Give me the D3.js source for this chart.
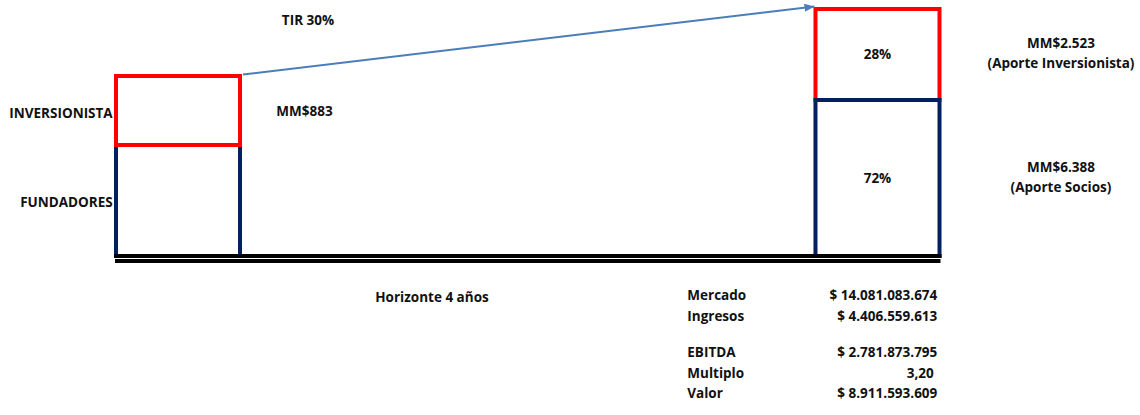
<!DOCTYPE html>
<html>
<head>
<meta charset="utf-8">
<script src="https://cdn.jsdelivr.net/npm/d3@7"></script>
<style>
  html, body { margin: 0; padding: 0; background: #fff; }
  svg { display: block; }
  text { font-family: "Open Sans", Lato, sans-serif; font-weight: bold; fill: #111; white-space: pre; }
</style>
</head>
<body>
<script>
// ---------- data ----------
const bars = ["Inicio", "Año 4"];
// visual segment heights (chart units)
const fundadores = [111, 156];
const inversionista = [69, 91];
const invPct = ["", "28%"];
const fundPct = ["", "72%"];
const sideLabels = ["INVERSIONISTA", "FUNDADORES"];
const midLabel = "MM$883";
const tirLabel = "TIR 30%";
const rightTop = ["MM$2.523", "(Aporte Inversionista)"];
const rightBottom = ["MM$6.388", "(Aporte Socios)"];
const axisLabel = "Horizonte 4 años";
const tableLabels = ["Mercado", "Ingresos", "", "EBITDA", "Multiplo", "Valor"];
const tableValues = ["$ 14.081.083.674", "$ 4.406.559.613", "", "$ 2.781.873.795", "3,20 ", "$ 8.911.593.609"];

// ---------- layout ----------
const W = 1140, H = 415;
const RED = "#ff0000", NAVY = "#002060", ARROW = "#4a7ebb";
const fs = 13.5;
const svg = d3.select("body").append("svg").attr("width", W).attr("height", H);

const x = d3.scaleBand().domain(bars).range([116, 939.5]).paddingInner(0.8227).paddingOuter(0);
const y = d3.scaleLinear().domain([0, 250]).range([256, 6]);
const bw = x.bandwidth();

bars.forEach((b, i) => {
  const x0 = x(b);
  const yBase = y(0);
  const yMid = y(fundadores[i]);
  const yTop = y(fundadores[i] + inversionista[i]);
  const navy = () => svg.append("rect")
      .attr("x", x0).attr("y", yMid).attr("width", bw).attr("height", yBase - yMid)
      .attr("fill", "none").attr("stroke", NAVY).attr("stroke-width", 4);
  const red = () => svg.append("rect")
      .attr("x", x0).attr("y", yTop).attr("width", bw).attr("height", yMid - yTop)
      .attr("fill", "none").attr("stroke", RED).attr("stroke-width", 4);
  if (i === 0) { navy(); red(); } else { red(); navy(); }
  if (invPct[i]) svg.append("text").attr("x", x0 + bw / 2).attr("y", (yTop + yMid) / 2 + 4.5)
      .attr("text-anchor", "middle").attr("font-size", fs).text(invPct[i]);
  if (fundPct[i]) svg.append("text").attr("x", x0 + bw / 2).attr("y", (yMid + yBase) / 2 + 5)
      .attr("text-anchor", "middle").attr("font-size", fs).text(fundPct[i]);
});

// baseline (double black line)
const xl = x(bars[0]) - 2, xr = x(bars[1]) + bw + 2;
svg.append("line").attr("x1", xl).attr("x2", xr).attr("y1", y(0)).attr("y2", y(0))
  .attr("stroke", "#000").attr("stroke-width", 4);
svg.append("line").attr("x1", xl + 1).attr("x2", xr - 1).attr("y1", y(0) + 5).attr("y2", y(0) + 5)
  .attr("stroke", "#000").attr("stroke-width", 4);

// arrow
svg.append("defs").append("marker")
  .attr("id", "ah").attr("markerUnits", "userSpaceOnUse")
  .attr("viewBox", "0 0 10 8").attr("refX", 10).attr("refY", 4)
  .attr("markerWidth", 10).attr("markerHeight", 8).attr("orient", "auto")
  .append("path").attr("d", "M0,0 L10,4 L0,8 Z").attr("fill", ARROW);
const y0top = y(fundadores[0] + inversionista[0]);
const y1top = y(fundadores[1] + inversionista[1]);
svg.append("line")
  .attr("x1", x(bars[0]) + bw + 3).attr("y1", y0top - 1.5)
  .attr("x2", x(bars[1]) - 1).attr("y2", y1top - 2.5)
  .attr("stroke", ARROW).attr("stroke-width", 2).attr("marker-end", "url(#ah)");

// labels
svg.append("text").attr("x", 308).attr("y", 25).attr("text-anchor", "middle").attr("font-size", fs).text(tirLabel);
svg.append("text").attr("x", 304.5).attr("y", 116).attr("text-anchor", "middle").attr("font-size", fs).text(midLabel);
svg.append("text").attr("x", 112.7).attr("y", 118.3).attr("text-anchor", "end").attr("font-size", fs).text(sideLabels[0]);
svg.append("text").attr("x", 112.7).attr("y", 207).attr("text-anchor", "end").attr("font-size", fs).text(sideLabels[1]);

rightTop.forEach((t, i) => svg.append("text").attr("x", 1061).attr("y", 48 + i * 20.3)
  .attr("text-anchor", "middle").attr("font-size", fs).text(t));
rightBottom.forEach((t, i) => svg.append("text").attr("x", 1061).attr("y", 172 + i * 20.3)
  .attr("text-anchor", "middle").attr("font-size", fs).text(t));

svg.append("text").attr("x", 432).attr("y", 301.7).attr("text-anchor", "middle").attr("font-size", fs).text(axisLabel);

// table
const rowY = i => 300 + i * 20.8 - (i >= 3 ? 5.7 : 0);
tableLabels.forEach((t, i) => {
  if (!t) return;
  svg.append("text").attr("x", 687.3).attr("y", rowY(i)).attr("font-size", fs).text(t);
});
tableValues.forEach((t, i) => {
  if (!t) return;
  svg.append("text").attr("x", 937.3).attr("y", rowY(i)).attr("text-anchor", "end").attr("font-size", fs).text(t);
});
</script>
</body>
</html>
